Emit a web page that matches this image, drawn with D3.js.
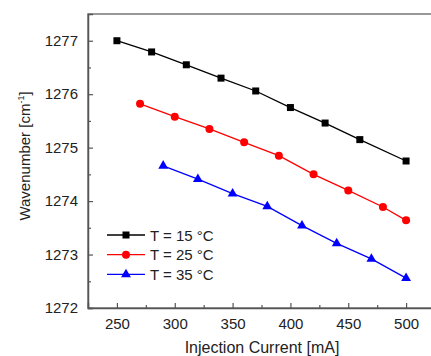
<!DOCTYPE html>
<html>
<head>
<meta charset="utf-8">
<script src="https://cdn.jsdelivr.net/npm/d3@7"></script>
<style>
  body { margin: 0; background: #fff; }
  svg { display: block; font-family: "Liberation Sans", Arial, sans-serif; }
</style>
</head>
<body>
<div id="chart"></div>
<script>
// data
const current15 = [250, 280, 310, 340, 370, 400, 430, 460, 500];
const wave15 = [1277.0, 1276.79, 1276.55, 1276.30, 1276.06, 1275.75, 1275.46, 1275.15, 1274.75];
const current25 = [270, 300, 330, 360, 390, 420, 450, 480, 500];
const wave25 = [1275.82, 1275.58, 1275.35, 1275.10, 1274.85, 1274.50, 1274.20, 1273.89, 1273.64];
const current35 = [290, 320, 350, 380, 410, 440, 470, 500];
const wave35 = [1274.66, 1274.41, 1274.14, 1273.90, 1273.54, 1273.21, 1272.92, 1272.56];

const xTicks = [250, 300, 350, 400, 450, 500];
const yTicks = [1272, 1273, 1274, 1275, 1276, 1277];

const series = [
  { label: 'T = 15 °C', color: '#000000', marker: 'square', x: current15, y: wave15 },
  { label: 'T = 25 °C', color: '#ff0000', marker: 'circle', x: current25, y: wave25 },
  { label: 'T = 35 °C', color: '#0000ff', marker: 'triangle', x: current35, y: wave35 }
];

const width = 431, height = 356;
const margin = { top: 14, right: -4, bottom: 48, left: 88 };

const svg = d3.select('#chart').append('svg')
  .attr('width', width)
  .attr('height', height);

const x = d3.scaleLinear().domain([225, 525]).range([margin.left, width - margin.right]);
const y = d3.scaleLinear().domain([1272, 1277.5]).range([height - margin.bottom, margin.top]);

const axisColor = '#555';
const textColor = '#222';

// frame
svg.append('rect')
  .attr('x', margin.left)
  .attr('y', margin.top)
  .attr('width', x(525) - margin.left)
  .attr('height', y(1272) - margin.top)
  .attr('fill', 'none')
  .attr('stroke', '#777')
  .attr('stroke-width', 1.5);

// bottom axis, ticks pointing inward
const xAxis = svg.append('g')
  .attr('transform', `translate(0,${y(1272)})`)
  .call(d3.axisBottom(x).tickValues(xTicks).tickSize(-5).tickPadding(10))
  .call(g => g.select('.domain').attr('stroke', axisColor).attr('stroke-width', 1.5));
xAxis.selectAll('.tick line').attr('stroke', axisColor).attr('stroke-width', 1.2);
xAxis.selectAll('.tick text').attr('fill', textColor).style('font-size', '15px');
svg.append('g')
  .attr('transform', `translate(0,${y(1272)})`)
  .call(d3.axisBottom(x).tickValues(d3.range(275, 525, 50)).tickSize(-3).tickFormat(''))
  .call(g => g.select('.domain').remove())
  .selectAll('.tick line').attr('stroke', axisColor).attr('stroke-width', 1.2);

// left axis
const yAxis = svg.append('g')
  .attr('transform', `translate(${margin.left},0)`)
  .call(d3.axisLeft(y).tickValues(yTicks).tickSize(-5).tickPadding(10).tickFormat(d3.format('d')))
  .call(g => g.select('.domain').attr('stroke', axisColor).attr('stroke-width', 1.5));
yAxis.selectAll('.tick line').attr('stroke', axisColor).attr('stroke-width', 1.2);
yAxis.selectAll('.tick text').attr('fill', textColor).style('font-size', '15px');
svg.append('g')
  .attr('transform', `translate(${margin.left},0)`)
  .call(d3.axisLeft(y).tickValues(d3.range(1272.5, 1277.5, 1)).tickSize(-3).tickFormat(''))
  .call(g => g.select('.domain').remove())
  .selectAll('.tick line').attr('stroke', axisColor).attr('stroke-width', 1.2);

// axis titles
svg.append('text')
  .attr('x', 262)
  .attr('y', 353)
  .attr('text-anchor', 'middle')
  .attr('fill', textColor)
  .style('font-size', '16px')
  .text('Injection Current [mA]');

const yTitle = svg.append('text')
  .attr('transform', 'translate(30,156) rotate(-90)')
  .attr('text-anchor', 'middle')
  .attr('fill', textColor)
  .style('font-size', '15px');
yTitle.append('tspan').text('Wavenumber [cm');
yTitle.append('tspan').attr('dy', -6).style('font-size', '9px').text('-1');
yTitle.append('tspan').attr('dy', 6).text(']');

function drawMarker(g, kind, color) {
  if (kind === 'square') {
    g.append('rect').attr('x', -3.5).attr('y', -3.5).attr('width', 7).attr('height', 7).attr('fill', color);
  } else if (kind === 'circle') {
    g.append('circle').attr('r', 4).attr('fill', color);
  } else {
    g.append('path').attr('d', d3.symbol(d3.symbolTriangle, 42)()).attr('fill', color);
  }
}

const line = d3.line().x(d => x(d[0])).y(d => y(d[1]));

series.forEach(s => {
  const pts = s.x.map((v, i) => [v, s.y[i]]);
  svg.append('path')
    .datum(pts)
    .attr('d', line)
    .attr('fill', 'none')
    .attr('stroke', s.color)
    .attr('stroke-width', 1.3);
  pts.forEach(p => {
    const g = svg.append('g').attr('transform', `translate(${x(p[0])},${y(p[1])})`);
    drawMarker(g, s.marker, s.color);
  });
});

// legend
const legend = svg.append('g').attr('transform', 'translate(107,235)');
series.forEach((s, i) => {
  const row = legend.append('g').attr('transform', `translate(0,${i * 19.7})`);
  row.append('line').attr('x1', 0).attr('x2', 38).attr('stroke', s.color).attr('stroke-width', 1.3);
  drawMarker(row.append('g').attr('transform', 'translate(19,0)'), s.marker, s.color);
  row.append('text')
    .attr('x', 43)
    .attr('y', 5.5)
    .attr('fill', textColor)
    .style('font-size', '15px')
    .text(s.label);
});
</script>
</body>
</html>
